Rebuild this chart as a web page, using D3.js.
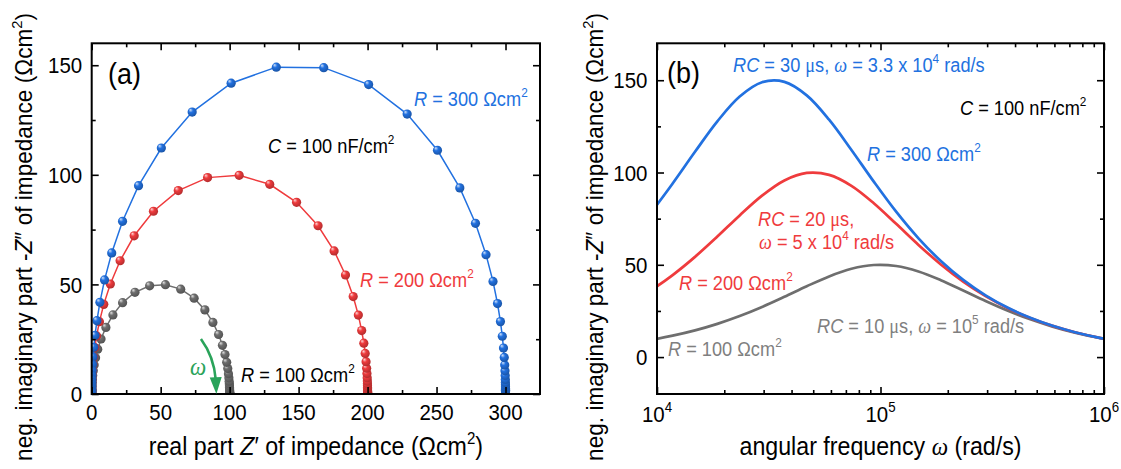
<!DOCTYPE html>
<html><head><meta charset="utf-8">
<script src="https://cdn.jsdelivr.net/npm/d3@7"></script>
<style>
body{margin:0;background:#fff;}
svg{display:block;font-family:"Liberation Sans",Arial,sans-serif;}
</style></head><body>
<svg id="c" width="1121" height="469"></svg>
<script>
// ---------- data ----------
// log10 of angular frequency omega (rad/s) for every sampled point
const logOmega = [2.07,2.17,2.27,2.37,2.47,2.57,2.67,2.77,2.87,2.97,3.07,3.17,3.27,3.37,3.47,3.57,3.67,3.77,3.87,3.97,4.07,4.17,4.27,4.37,4.47,4.57,4.67,4.77,4.87,4.97,5.07,5.17,5.27,5.37,5.47,5.57,5.67,5.77,5.87,5.97,6.07,6.17,6.27,6.37,6.47,6.57,6.67,6.77,6.87,6.97,7.07];
// R = 100 Ohm cm2
const grayZre = [100,100,100,100,100,100,100,100,99.99,99.99,99.99,99.98,99.97,99.95,99.91,99.86,99.78,99.65,99.45,99.14,98.64,97.86,96.65,94.79,91.99,87.87,82.05,74.25,64.54,53.45,42.01,31.37,22.39,15.40,10.30,6.75,4.37,2.80,1.79,1.14,0.72,0.46,0.29,0.18,0.11,0.07,0.05,0.03,0.02,0.01,0.01];
const grayZim = [0.12,0.15,0.19,0.23,0.30,0.37,0.47,0.59,0.74,0.93,1.17,1.48,1.86,2.34,2.95,3.71,4.67,5.87,7.37,9.25,11.59,14.47,18.00,22.22,27.15,32.65,38.38,43.72,47.84,49.88,49.36,46.40,41.68,36.09,30.39,25.10,20.45,16.51,13.25,10.59,8.45,6.73,5.36,4.26,3.38,2.69,2.14,1.70,1.35,1.07,0.85];
// R = 200 Ohm cm2
const redZre = [200,200,200,200,199.99,199.99,199.98,199.97,199.96,199.93,199.89,199.83,199.72,199.56,199.31,198.91,198.27,197.28,195.72,193.30,189.58,183.98,175.74,164.10,148.51,129.07,106.90,84.02,62.74,44.77,30.79,20.60,13.51,8.74,5.61,3.57,2.27,1.44,0.91,0.58,0.36,0.23,0.14,0.09,0.06,0.04,0.02,0.01,0.01,0.01,0.00];
const redZim = [0.47,0.59,0.74,0.94,1.18,1.48,1.87,2.35,2.96,3.72,4.69,5.90,7.42,9.33,11.74,14.75,18.50,23.18,28.95,35.99,44.44,54.30,65.29,76.76,87.45,95.68,99.76,98.72,92.80,83.37,72.18,60.79,50.19,40.89,33.01,26.50,21.19,16.90,13.46,10.71,8.52,6.77,5.38,4.27,3.40,2.70,2.14,1.70,1.35,1.07,0.85];
// R = 300 Ohm cm2
const blueZre = [300,300,299.99,299.99,299.98,299.96,299.94,299.91,299.85,299.77,299.63,299.41,299.07,298.52,297.67,296.32,294.21,290.93,285.87,278.21,266.87,250.67,228.68,200.76,168.21,133.83,101.09,72.84,50.48,33.96,22.36,14.51,9.32,5.95,3.78,2.40,1.52,0.96,0.61,0.38,0.24,0.15,0.10,0.06,0.04,0.02,0.02,0.01,0.01,0.00,0.00];
const blueZim = [1.06,1.33,1.68,2.11,2.66,3.34,4.21,5.30,6.67,8.39,10.56,13.28,16.70,20.99,26.35,33.02,41.27,51.38,63.56,77.87,94.04,111.20,127.71,141.15,148.89,149.12,141.80,128.63,112.23,95.05,78.79,64.36,52.05,41.82,33.47,26.71,21.28,16.93,13.47,10.70,8.51,6.76,5.37,4.27,3.39,2.69,2.14,1.70,1.35,1.07,0.85];

// tick values / labels
const xTicksA = [0,50,100,150,200,250,300];
const xMinorA = [25,75,125,175,225,275];
const yTicksA = [0,50,100,150];
const yMinorA = [25,75,125];
const xTicksB = [1e4,1e5,1e6];
const xTickExpB = ["4","5","6"];
const xMinorB = [2e4,3e4,4e4,5e4,6e4,7e4,8e4,9e4,2e5,3e5,4e5,5e5,6e5,7e5,8e5,9e5];
const yTicksB = [0,50,100,150];
const yMinorB = [25,75,125];

// ---------- styles ----------
const COL = {gray:"#6e6e6e", red:"#ef3b3d", blue:"#2271e0", grayText:"#7f7f7f", green:"#2aa35a"};
const FONT_TICK = 20.5, FONT_TITLE = 23.2, FONT_NOTE = 18.2, FONT_PANEL = 27;
const K = 1.12;    // vertical stretch of the horizontal lettering in the original figure
const KR = 0.975;  // stretch along the rotated axis titles

const series = [
  {key:"gray", re:grayZre, im:grayZim, color:COL.gray},
  {key:"red",  re:redZre,  im:redZim,  color:COL.red},
  {key:"blue", re:blueZre, im:blueZim, color:COL.blue}
].map(s => ({...s, pts: s.re.map((r,i)=>({re:r, im:s.im[i], w:Math.pow(10, logOmega[i])}))}));

const svg = d3.select("#c");
const defs = svg.append("defs");

series.forEach(s=>{
  const g = defs.append("radialGradient").attr("id","ball-"+s.key)
    .attr("cx","45%").attr("cy","42%").attr("r","62%").attr("fx","30%").attr("fy","26%");
  g.append("stop").attr("offset","0%").attr("stop-color", d3.interpolateRgb(s.color,"#ffffff")(0.8));
  g.append("stop").attr("offset","38%").attr("stop-color", s.color);
  g.append("stop").attr("offset","100%").attr("stop-color", d3.color(s.color).darker(0.9));
});

// ---------- helpers ----------
function rich(g, x, y, parts, size, color, anchor, extra){
  const t = g.append("text")
    .attr("transform", `translate(${x},${y}) ${extra||("scale(1,"+K+")")}`)
    .attr("font-size",size).attr("fill",color).attr("text-anchor",anchor||"start");
  let shift = 0;
  parts.forEach(p=>{
    const s = typeof p==="string" ? p : p[0];
    const st = typeof p==="string" ? "" : p[1];
    const ts = t.append("tspan").text(s);
    if (st.includes("i")) ts.attr("font-style","italic");
    if (st.includes("g")) ts.attr("font-family","'Liberation Serif','DejaVu Serif',serif");
    if (st.includes("s")) { ts.attr("font-size", size*0.65).attr("dy", -size*0.42); shift = size*0.42; }
    else if (shift) { ts.attr("dy", shift); shift = 0; }
  });
  return t;
}
function styleAxis(sel){
  sel.select(".domain").remove();
  sel.selectAll(".tick line").attr("stroke","#000").attr("stroke-width",1.6);
  sel.selectAll("text").remove();
}
function frameTicks(g, xs, ys, xMaj, xMin, yMaj, yMin, x0, x1, y0, y1){
  const ax = [
    [d3.axisBottom(xs).tickValues(xMaj).tickSize(-7), 0, y0],
    [d3.axisBottom(xs).tickValues(xMin).tickSize(-4), 0, y0],
    [d3.axisTop(xs).tickValues(xMaj).tickSize(-7), 0, y1],
    [d3.axisTop(xs).tickValues(xMin).tickSize(-4), 0, y1],
    [d3.axisLeft(ys).tickValues(yMaj).tickSize(-7), x0, 0],
    [d3.axisLeft(ys).tickValues(yMin).tickSize(-4), x0, 0],
    [d3.axisRight(ys).tickValues(yMaj).tickSize(-7), x1, 0],
    [d3.axisRight(ys).tickValues(yMin).tickSize(-4), x1, 0]
  ];
  ax.forEach(([a,tx,ty])=> styleAxis(g.append("g").attr("transform",`translate(${tx},${ty})`).call(a.tickFormat(""))));
  yMaj.forEach(v=> rich(g, x0-9.5, ys(v)+8.2, [String(v)], FONT_TICK, "#000", "end"));
}

// ================= panel (a): Nyquist =================
const A = {x0:91.7, x1:540, y0:394, y1:43.3};
const xa = d3.scaleLinear().domain([0,325]).range([A.x0,A.x1]);
const ya = d3.scaleLinear().domain([0,160]).range([A.y0,A.y1]);
const gA = svg.append("g");

defs.append("clipPath").attr("id","clipA").append("rect")
  .attr("x",A.x0).attr("y",A.y1).attr("width",A.x1-A.x0).attr("height",A.y0-A.y1);

const dataA = gA.append("g").attr("clip-path","url(#clipA)");
const lineA = d3.line().x(d=>xa(d.re)).y(d=>ya(d.im));
series.forEach(s=>{
  dataA.append("path").attr("d",lineA(s.pts)).attr("fill","none")
    .attr("stroke",s.color).attr("stroke-width",1.5);
  dataA.append("g").selectAll("circle").data(s.pts).join("circle")
    .attr("cx",d=>xa(d.re)).attr("cy",d=>ya(d.im)).attr("r",4.6)
    .attr("fill",`url(#ball-${s.key})`);
});

frameTicks(gA, xa, ya, xTicksA, xMinorA, yTicksA, yMinorA, A.x0, A.x1, A.y0, A.y1);
xTicksA.forEach(v=> rich(gA, xa(v), 420, [String(v)], FONT_TICK, "#000", "middle"));
gA.append("rect").attr("x",A.x0).attr("y",A.y1).attr("width",A.x1-A.x0).attr("height",A.y0-A.y1)
  .attr("fill","none").attr("stroke","#000").attr("stroke-width",2);

// arrow omega
{
  const S=[xa(79.2),ya(25.1)], C=[xa(88.6),ya(17)], B=[xa(89.9),ya(7.6)], T=[xa(90.4),ya(0)];
  gA.append("path").attr("d",`M${S[0]},${S[1]} Q${C[0]},${C[1]} ${B[0]},${B[1]+2}`)
    .attr("fill","none").attr("stroke",COL.green).attr("stroke-width",2.6);
  const dx=T[0]-B[0], dy=T[1]-B[1], L=Math.hypot(dx,dy), nx=-dy/L*6, ny=dx/L*6;
  gA.append("path").attr("d",`M${T[0]},${T[1]} L${B[0]+nx},${B[1]+ny} L${B[0]-nx},${B[1]-ny} Z`).attr("fill",COL.green);
  rich(gA, 190, 375, [["ω","ig"]], 23, COL.green);
}

rich(gA, 108, 84, ["(a)"], FONT_PANEL, "#000");
rich(gA, 414, 106, [["R","i"]," = 300 Ωcm",["2","s"]], FONT_NOTE, COL.blue);
rich(gA, 268, 153, [["C","i"]," = 100 nF/cm",["2","s"]], FONT_NOTE, "#000");
rich(gA, 360, 287, [["R","i"]," = 200 Ωcm",["2","s"]], FONT_NOTE, COL.red);
rich(gA, 241, 382, [["R","i"]," = 100 Ωcm",["2","s"]], FONT_NOTE, "#000");

rich(gA, (A.x0+A.x1)/2, 455, ["real part ",["Z","i"],"′ of impedance (Ωcm",["2","s"],")"], FONT_TITLE, "#000", "middle");
rich(gA, 32, 13, ["neg. imaginary part -",["Z","i"],"″ of impedance (Ωcm",["2","s"],")"], FONT_TITLE, "#000", "end", `rotate(-90) scale(${KR},1)`);

// ================= panel (b): -Z'' vs omega =================
const Bp = {x0:657, x1:1104, y0:394, y1:43.3};
const xb = d3.scaleLog().domain([1e4,1e6]).range([Bp.x0,Bp.x1]);
const yb = d3.scaleLinear().domain([-20,170]).range([Bp.y0,Bp.y1]);
const gB = svg.append("g");
defs.append("clipPath").attr("id","clipB").append("rect")
  .attr("x",Bp.x0).attr("y",Bp.y1).attr("width",Bp.x1-Bp.x0).attr("height",Bp.y0-Bp.y1);
const dataB = gB.append("g").attr("clip-path","url(#clipB)");
const lineB = d3.line().curve(d3.curveCatmullRom.alpha(0.5)).x(d=>xb(d.w)).y(d=>yb(d.im));
series.forEach(s=>{
  const pts = s.pts.filter(d=>d.w>=5e3 && d.w<=2e6);
  dataB.append("path").attr("d",lineB(pts)).attr("fill","none")
    .attr("stroke",s.color).attr("stroke-width",2.7);
});
frameTicks(gB, xb, yb, xTicksB, xMinorB, yTicksB, yMinorB, Bp.x0, Bp.x1, Bp.y0, Bp.y1);
xTicksB.forEach((v,i)=> rich(gB, xb(v), 422, ["10",[xTickExpB[i],"s"]], FONT_TICK, "#000", "middle"));
gB.append("rect").attr("x",Bp.x0).attr("y",Bp.y1).attr("width",Bp.x1-Bp.x0).attr("height",Bp.y0-Bp.y1)
  .attr("fill","none").attr("stroke","#000").attr("stroke-width",2);

rich(gB, 667, 83, ["(b)"], FONT_PANEL, "#000");
rich(gB, 733, 72, [["RC","i"]," = 30 ",["μ","g"],"s, ",["ω","ig"]," = 3.3 x 10",["4","s"]," rad/s"], FONT_NOTE, COL.blue);
rich(gB, 960, 115, [["C","i"]," = 100 nF/cm",["2","s"]], FONT_NOTE, "#000");
rich(gB, 867, 161, [["R","i"]," = 300 Ωcm",["2","s"]], FONT_NOTE, COL.blue);
rich(gB, 758, 226, [["RC","i"]," = 20 ",["μ","g"],"s,"], FONT_NOTE, COL.red);
rich(gB, 759, 249, [["ω","ig"]," = 5 x 10",["4","s"]," rad/s"], FONT_NOTE, COL.red);
rich(gB, 679, 290, [["R","i"]," = 200 Ωcm",["2","s"]], FONT_NOTE, COL.red);
rich(gB, 817, 333, [["RC","i"]," = 10 ",["μ","g"],"s, ",["ω","ig"]," = 10",["5","s"]," rad/s"], FONT_NOTE, COL.grayText);
rich(gB, 668, 356, [["R","i"]," = 100 Ωcm",["2","s"]], FONT_NOTE, COL.grayText);

rich(gB, (Bp.x0+Bp.x1)/2, 455, ["angular frequency ",["ω","ig"]," (rad/s)"], FONT_TITLE, "#000", "middle");
rich(gB, 603, 13, ["neg. imaginary part -",["Z","i"],"″ of impedance (Ωcm",["2","s"],")"], FONT_TITLE, "#000", "end", `rotate(-90) scale(${KR},1)`);
</script>
</body></html>
